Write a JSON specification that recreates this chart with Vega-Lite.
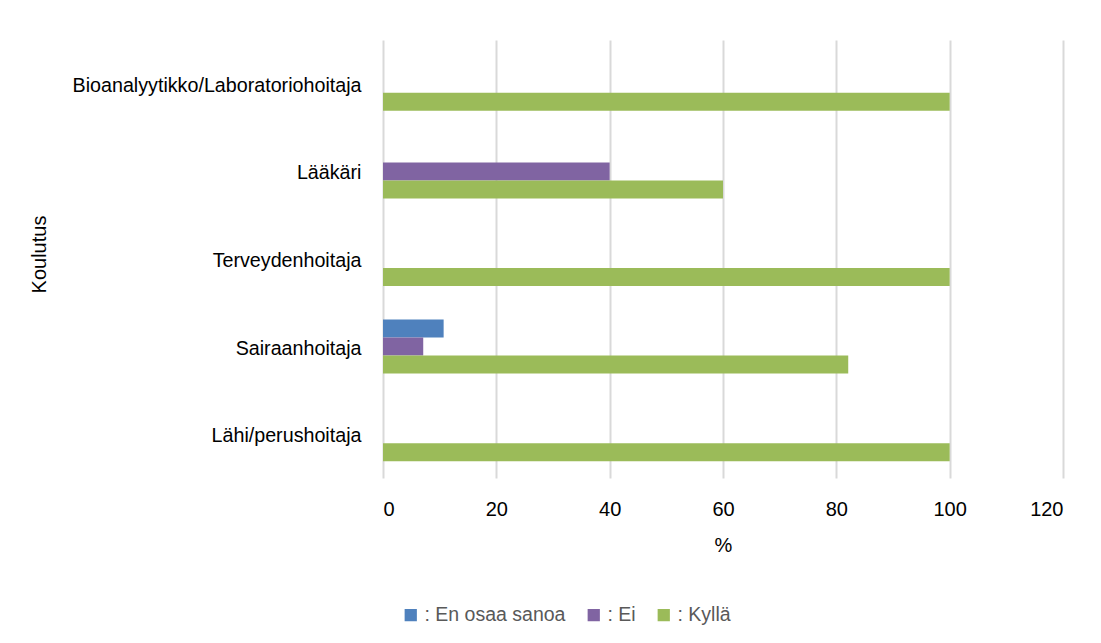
{
  "$schema": "https://vega.github.io/schema/vega-lite/v6.json",
  "autosize": "none",
  "width": 680,
  "height": 438,
  "padding": {"left": 383, "top": 40, "right": 38, "bottom": 165},
  "background": "white",
  "config": {
    "view": {"stroke": null},
    "font": "Liberation Sans, Arial, sans-serif"
  },
  "data": {
    "values": [
      {"koulutus": "Bioanalyytikko/Laboratoriohoitaja", "vastaus": "Kyllä", "pct": 100},
      {"koulutus": "Lääkäri", "vastaus": "Ei", "pct": 40},
      {"koulutus": "Lääkäri", "vastaus": "Kyllä", "pct": 60},
      {"koulutus": "Terveydenhoitaja", "vastaus": "Kyllä", "pct": 100},
      {"koulutus": "Sairaanhoitaja", "vastaus": "En osaa sanoa", "pct": 10.7},
      {"koulutus": "Sairaanhoitaja", "vastaus": "Ei", "pct": 7.1},
      {"koulutus": "Sairaanhoitaja", "vastaus": "Kyllä", "pct": 82.1},
      {"koulutus": "Lähi/perushoitaja", "vastaus": "Kyllä", "pct": 100}
    ]
  },
  "mark": {"type": "bar"},
  "encoding": {
    "y": {
      "field": "koulutus",
      "type": "nominal",
      "sort": ["Bioanalyytikko/Laboratoriohoitaja", "Lääkäri", "Terveydenhoitaja", "Sairaanhoitaja", "Lähi/perushoitaja"],
      "scale": {"paddingInner": 0.384, "paddingOuter": 0.192},
      "axis": {
        "title": "Koulutus",
        "domain": false,
        "ticks": false,
        "tickSize": 0,
        "labelPadding": 22,
        "labelOffset": 2,
        "labelFontSize": 19.7,
        "labelLimit": 500,
        "labelColor": "#000000",
        "titleFontSize": 20,
        "titleFontWeight": "normal",
        "titleColor": "#000000",
        "titleX": -334,
        "titleY": 214,
        "titleAlign": "center"
      }
    },
    "yOffset": {
      "field": "vastaus",
      "type": "nominal",
      "scale": {"domain": ["En osaa sanoa", "Ei", "Kyllä"], "paddingInner": 0, "paddingOuter": 0}
    },
    "x": {
      "field": "pct",
      "type": "quantitative",
      "scale": {"domain": [0, 120], "nice": false},
      "axis": {
        "title": "%",
        "values": [0, 20, 40, 60, 80, 100, 120],
        "domain": false,
        "ticks": false,
        "tickSize": 0,
        "grid": true,
        "gridColor": "#d9d9d9",
        "gridWidth": 2,
        "labelPadding": 21,
        "labelFontSize": 20,
        "labelColor": "#000000",
        "titleFontSize": 20,
        "titleFontWeight": "normal",
        "titleColor": "#000000",
        "titlePadding": 16
      }
    },
    "color": {
      "field": "vastaus",
      "type": "nominal",
      "scale": {"domain": ["En osaa sanoa", "Ei", "Kyllä"], "range": ["#4F81BD", "#8064A2", "#9BBB59"]},
      "legend": {
        "title": null,
        "orient": "none",
        "direction": "horizontal",
        "legendX": 18,
        "legendY": 565,
        "symbolType": "square",
        "symbolSize": 150,
        "symbolStrokeWidth": 0,
        "labelOffset": 4,
        "columnPadding": 18,
        "labelFontSize": 19.5,
        "labelLimit": 400,
        "labelColor": "#595959",
        "labelExpr": "': ' + datum.label"
      }
    }
  }
}
